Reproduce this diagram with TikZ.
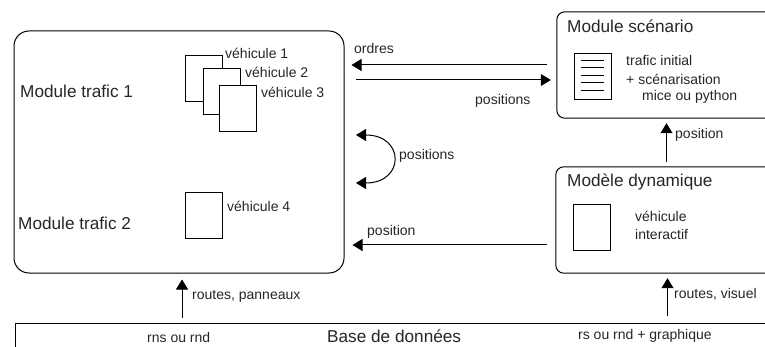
\documentclass[tikz,border=0pt]{standalone}
\usepackage{fontspec}
\setmainfont{Liberation Sans}
\usetikzlibrary{arrows.meta}
\tikzset{
  module/.style={inner sep=0pt},
  trait/.style={line width=1pt, rounded corners=8pt},
  feuille/.style={draw, fill=white, line width=1pt, inner sep=0pt, minimum width=37pt, minimum height=46pt},
  petit/.style={font=\fontsize{14}{14}\selectfont, anchor=west, inner sep=0pt, text=black!85},
  grand/.style={font=\fontsize{17.2}{17}\selectfont, anchor=west, inner sep=0pt, text=black!85},
  fleche/.style={-{Triangle[length=10pt,width=12pt]}, line width=1pt},
}
\begin{document}
\begin{tikzpicture}[x=1pt,y=-1pt]
        \useasboundingbox (0,0) rectangle (765,347);

        % boites
        \node[draw, rounded corners=15pt, line width=1pt, inner sep=0pt, minimum width=330pt, minimum height=242pt] (trafic) at (179,152) {};
        \node[module, minimum width=208pt, minimum height=106pt] (scenario) at (661,65) {};
        \node[module, minimum width=209pt, minimum height=106pt] (dynamique) at (660.5,220) {};
        \node[module, minimum width=749pt, minimum height=23pt] (base) at (390.5,335.5) {};
        \draw[trait] (scenario.north east) -- (scenario.north west) -- (scenario.south west) -- (scenario.south east);
        \draw[trait] (dynamique.north east) -- (dynamique.north west) -- (dynamique.south west) -- (dynamique.south east);
        \draw[line width=1pt] (base.south west) -- (base.north west) -- (base.north east);

        % vehicules
        \node[feuille] (v1) at (203.5,79) {};
        \node[feuille] (v2) at (222,92) {};
        \node[feuille] (v3) at (237.5,109) {};
        \node[feuille] (v4) at (203.5,216) {};
        \node[feuille] (vi) at (591.5,228) {};
        \node[feuille] (doc) at (593,76.5) {};
        \foreach \y in {61,68,76,83,91}
            \draw[line width=1pt] (581,\y) -- (604,\y);

        % textes
        \node[grand] (t1) at (20,91) {Module trafic 1};
        \node[grand] (t2) at (18,223) {Module trafic 2};
        \node[grand] (tb) at (327,336) {Base de données};
        \node[grand] (ts) at (567,26) {Module scénario};
        \node[grand] (td) at (567,182) {Modèle dynamique};
        \node[petit] (l1) at (225,53) {véhicule 1};
        \node[petit] (l2) at (245,72) {véhicule 2};
        \node[petit] (l3) at (261,92) {véhicule 3};
        \node[petit] (l4) at (227,206) {véhicule 4};
        \node[petit] (lr) at (192,296) {routes, panneaux};
        \node[petit] (lrns) at (147,337) {rns ou rnd};
        \node[petit] (lrs) at (578,336) {rs ou rnd + graphique};
        \node[petit] (lo) at (354,48) {ordres};
        \node[petit] (lp1) at (475,101) {positions};
        \node[petit] (lp2) at (399,156) {positions};
        \node[petit] (lp3) at (367,232) {position};
        \node[petit] (lp4) at (675,135) {position};
        \node[petit] (lv) at (674,294) {routes, visuel};
        \node[petit] (li1) at (626,60) {trafic initial};
        \node[petit] (li2) at (626,79) {+ scénarisation};
        \node[petit] (li3) at (642,97) {mice ou python};
        \node[petit] (lvi) at (635,216) {véhicule};
        \node[petit] (lin) at (635,234) {interactif};

        % fleches
        \draw[fleche, shorten <=10pt, shorten >=7pt] (scenario.west) -- (scenario.west -| trafic.east);
        \draw[fleche, shorten <=11pt, shorten >=6pt] ([yshift=-15pt]trafic.east |- scenario.west) -- ([yshift=-15pt]scenario.west);
        \draw[fleche, shorten <=9pt, shorten >=8pt] ([yshift=-25pt]dynamique.west) -- ([yshift=-25pt]dynamique.west -| trafic.east);
        \draw[fleche, shorten <=5pt, shorten >=5pt] ([xshift=6pt]dynamique.north) -- ([xshift=6pt]dynamique.north |- scenario.south);
        \draw[fleche, shorten <=6pt, shorten >=6pt] ([xshift=3pt]trafic.south |- base.north) -- ([xshift=3pt]trafic.south);
        \draw[fleche, shorten <=8pt, shorten >=5pt] ([xshift=7pt]dynamique.south |- base.north) -- ([xshift=7pt]dynamique.south);

        \coordinate (haut) at (356,135);
        \coordinate (bas) at (356,183);
        \draw[{Triangle[length=10pt,width=12pt]}-{Triangle[length=10pt,width=12pt]}, line width=1pt]
            (haut) .. controls (405,135) and (405,183) .. (bas);
\end{tikzpicture}
\end{document}
